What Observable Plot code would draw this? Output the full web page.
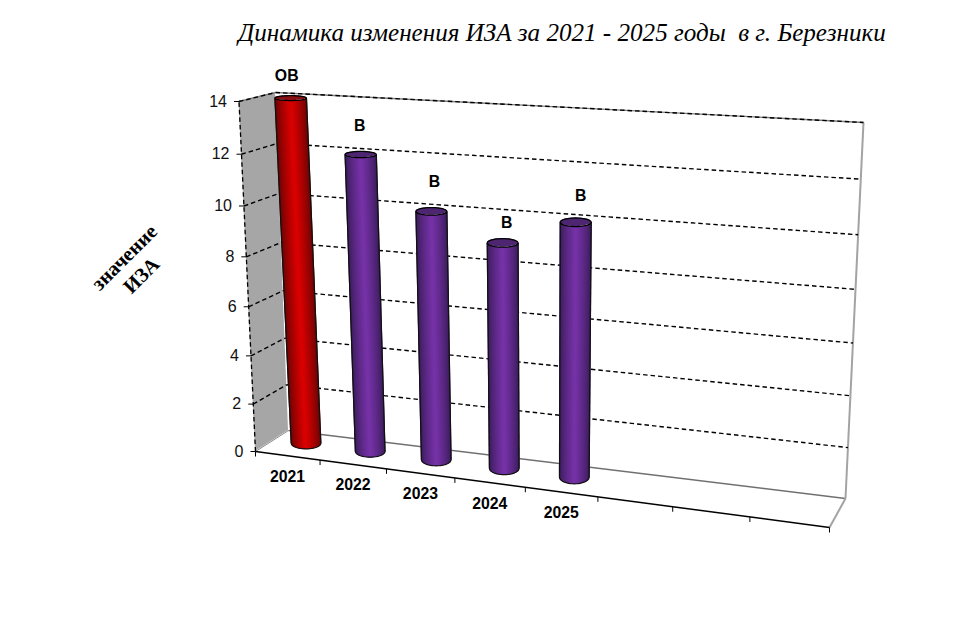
<!DOCTYPE html>
<html lang="ru">
<head>
<meta charset="utf-8">
<style>html,body{margin:0;padding:0;background:#fff}svg{display:block}</style>
<script src="https://cdn.jsdelivr.net/npm/d3@7"></script>
<script src="https://cdn.jsdelivr.net/npm/@observablehq/plot@0.6"></script>
</head>
<body>
<script>
// ---- data ----
const years = ["2021", "2022", "2023", "2024", "2025"];
const iza = [14, 12, 10, 9, 10];
const grades = ["ОВ", "В", "В", "В", "В"];
const yTicks = [0, 2, 4, 6, 8, 10, 12, 14];
const slotCount = 8;
const yMax = 14;

// ---- 3D box of the chart, as corners on the page ----
const box = {
  fl0: [255, 451], fl1: [238.5, 101],
  bl0: [288, 430], bl1: [275, 92],
  fr0: [829, 527], fr1: [852, 138],
  br0: [845, 498], br1: [863, 122]
};
const lerp = (a, b, k) => a + (b - a) * k;
const persp = 0.887, perspV = 0.94;
const slotT = (s) => { const u = s / slotCount; return persp * u / (1 + (persp - 1) * u); };
function proj(t, d, v) {
  const u = v / yMax, h = perspV * u / (1 + (perspV - 1) * u);
  return [0, 1].map((c) => {
    const fl = lerp(box.fl0[c], box.fl1[c], h), fr = lerp(box.fr0[c], box.fr1[c], h);
    const bl = lerp(box.bl0[c], box.bl1[c], h), br = lerp(box.br0[c], box.br1[c], h);
    return lerp(lerp(fl, fr, t), lerp(bl, br, t), d);
  });
}
// cylinder points keep x on the axis plane and y on their own centre line, so the caps stay level ellipses
const xDepth = (v) => lerp(0.58, 0.5, v / yMax);
const X = (p) => proj(p.t, p.tc !== undefined ? xDepth(p.v) : p.d, p.v)[0];
const Y = (p) => proj(p.tc !== undefined ? p.tc : p.t, p.d, p.v)[1];

// ---- geometry tables built from the values ----
const rT = 0.0262, rD = 0.26, midD = 0.58;
const bars = years.map((year, i) => ({year, i, value: iza[i], t: slotT(i + 0.5) * 0.997, axisT: slotT(i + 0.5), grade: grades[i]}));
const palette = (b) => b.value >= 14 ? {edge: "#5c0606", mid: "#d80000", cap: "#8a0e12"} : {edge: "#341a52", mid: "#7532a6", cap: "#4e2570"};
const strips = bars.flatMap((b) => {
  const pal = palette(b), col = d3.interpolateRgb(pal.edge, pal.mid);
  const rows = d3.range(-22, 23).map((n) => {
    const u = n / 22, s = Math.sqrt(1 - u * u);
    const t = b.t + rT * u * 0.97, d = midD - rD * s;
    return {u, top: {t, tc: b.t, d, v: b.value}, bot: {t, tc: b.t, d, v: 0}, color: col(Math.pow(1 - Math.abs(u), 0.7))};
  });
  return d3.sort(rows, (r) => -Math.abs(r.u));
});
const circle = (b, v) => d3.range(0, 49).map((n) => {
  const a = n / 48 * 2 * Math.PI;
  return {t: b.t + rT * Math.cos(a), tc: b.t, d: midD + rD * Math.sin(a), v};
});
const halves = (b) => d3.range(0, 41).map((n) => {
  const u = -1 + n / 20, s = Math.sqrt(1 - u * u), t = b.t + rT * u;
  return {low: {t, tc: b.t, d: midD - rD * s, v: b.value}, up: {t, tc: b.t, d: midD + rD * s, v: b.value}};
});
const seg = (t1, d1, v1, t2, d2, v2) => ({a: {t: t1, d: d1, v: v1}, b: {t: t2, d: d2, v: v2}});
const cylSeg = (t, tc, v) => ({a: {t, tc, d: midD, v}, b: {t, tc, d: midD, v: 0}});
const linkOf = (rows, opts) => Plot.link(rows, {
  x1: (r) => X(r.a), y1: (r) => Y(r.a), x2: (r) => X(r.b), y2: (r) => Y(r.b), ...opts
});

const nudges = [[-4, -22], [-1, -29], [3, -29], [4, -20], [5, -26]];

const marks = [
  // side wall
  Plot.area([0, yMax], {
    x1: (v) => proj(0, 0, v)[0], y1: (v) => proj(0, 0, v)[1],
    x2: (v) => proj(0, 1, v)[0], y2: (v) => proj(0, 1, v)[1],
    fill: "#a6a6a6"
  }),
  // frame
  linkOf([seg(0, 0, yMax, 0, 1, yMax), seg(0, 1, yMax, 1, 1, yMax)], {stroke: "#808080", strokeWidth: 1.4}),
  linkOf([seg(0, 1, 0, 1, 1, 0)], {stroke: "#707070", strokeWidth: 1.6}),
  linkOf([seg(1, 1, 0, 1, 1, yMax), seg(1, 0, 0, 1, 1, 0)], {stroke: "#a3a3a3", strokeWidth: 2}),
  linkOf([seg(0, 0, 0, 0, 1, 0)], {stroke: "#8c8c8c", strokeWidth: 1}),
  // gridlines
  linkOf(yTicks.filter((v) => v > 0).flatMap((v) => [seg(0, 0, v, 0, 1, v), seg(0, 1, v, 1, 1, v)]), {stroke: "#000", strokeWidth: 1.4, strokeDasharray: "4.5,3"}),
  linkOf([seg(0, 0, 0, 0, 0, yMax)], {stroke: "#000", strokeWidth: 1.3, strokeDasharray: "4.5,3"}),
  // cylinders
  Plot.link(strips, {x1: (r) => X(r.top), y1: (r) => Y(r.top), x2: (r) => X(r.bot), y2: (r) => Y(r.bot), stroke: (r) => r.color, strokeWidth: 2.2, strokeLinecap: "butt"}),
  ...bars.flatMap((b) => [
    linkOf([cylSeg(b.t - rT, b.t, b.value), cylSeg(b.t + rT, b.t, b.value)], {stroke: "#111", strokeWidth: 1.2}),
    Plot.line(circle(b, 0).filter((p, n) => n >= 24), {x: X, y: Y, stroke: "#111", strokeWidth: 1.2}),
    Plot.area(halves(b), {x1: (r) => X(r.low), y1: (r) => Y(r.low), x2: (r) => X(r.up), y2: (r) => Y(r.up), fill: palette(b).cap}),
    Plot.line(circle(b, b.value), {x: X, y: Y, stroke: "#000", strokeWidth: 1.3})
  ]),
  // floor axis
  linkOf([seg(0, 0, 0, 1, 0, 0)], {stroke: "#000", strokeWidth: 1.5}),
  Plot.link(d3.range(0, slotCount + 1), {
    x1: (s) => proj(slotT(s), 0, 0)[0], y1: (s) => proj(slotT(s), 0, 0)[1],
    x2: (s) => proj(slotT(s), 0, 0)[0], y2: (s) => proj(slotT(s), 0, 0)[1] + 5,
    stroke: "#000", strokeWidth: 1
  }),
  // value axis
  Plot.link(yTicks, {
    x1: (v) => proj(0, 0, v)[0] - 5, y1: (v) => proj(0, 0, v)[1],
    x2: (v) => proj(0, 0, v)[0], y2: (v) => proj(0, 0, v)[1],
    stroke: "#000", strokeWidth: 1
  }),
  Plot.text(yTicks, {
    x: (v) => proj(0, 0, v)[0] - 12, y: (v) => proj(0, 0, v)[1], text: (v) => String(v),
    textAnchor: "end", fontSize: 16, fontFamily: "Liberation Sans", fill: "#111"
  }),
  // category labels
  Plot.text(bars, {
    x: (b) => proj(b.axisT, 0, 0)[0], y: (b) => proj(b.axisT, 0, 0)[1] + 21, text: "year",
    fontSize: 15.8, fontWeight: "bold", fontFamily: "Liberation Sans", fill: "#000"
  }),
  // grade labels
  Plot.text(bars, {
    x: (b) => X({t: b.t, tc: b.t, v: b.value}) + nudges[b.i][0],
    y: (b) => Y({t: b.t, d: midD, v: b.value}) + nudges[b.i][1],
    text: "grade", fontSize: 15.8, fontWeight: "bold", fontFamily: "Liberation Sans", fill: "#000"
  }),
  // titles
  Plot.text(["Динамика изменения ИЗА за 2021 - 2025 годы \u00a0в г. Березники"], {
    x: () => 561.5, y: () => 32, text: (d) => d, fontSize: 25.1, fontStyle: "italic", fontFamily: "Liberation Serif", fill: "#000"
  }),
  Plot.text(["значение"], {x: () => 124, y: () => 257, text: (d) => d, rotate: -45, fontSize: 20.5, fontWeight: "bold", fontFamily: "Liberation Serif", fill: "#000"}),
  Plot.text(["ИЗА"], {x: () => 141, y: () => 275, text: (d) => d, rotate: -45, fontSize: 20.5, fontWeight: "bold", fontFamily: "Liberation Serif", fill: "#000"})
];

const chart = Plot.plot({
  width: 969, height: 633,
  margin: 0,
  x: {domain: [0, 969], range: [0, 969], axis: null},
  y: {domain: [0, 633], range: [0, 633], axis: null},
  style: {background: "#fff"},
  marks
});
document.body.append(chart);
</script>
</body>
</html>
